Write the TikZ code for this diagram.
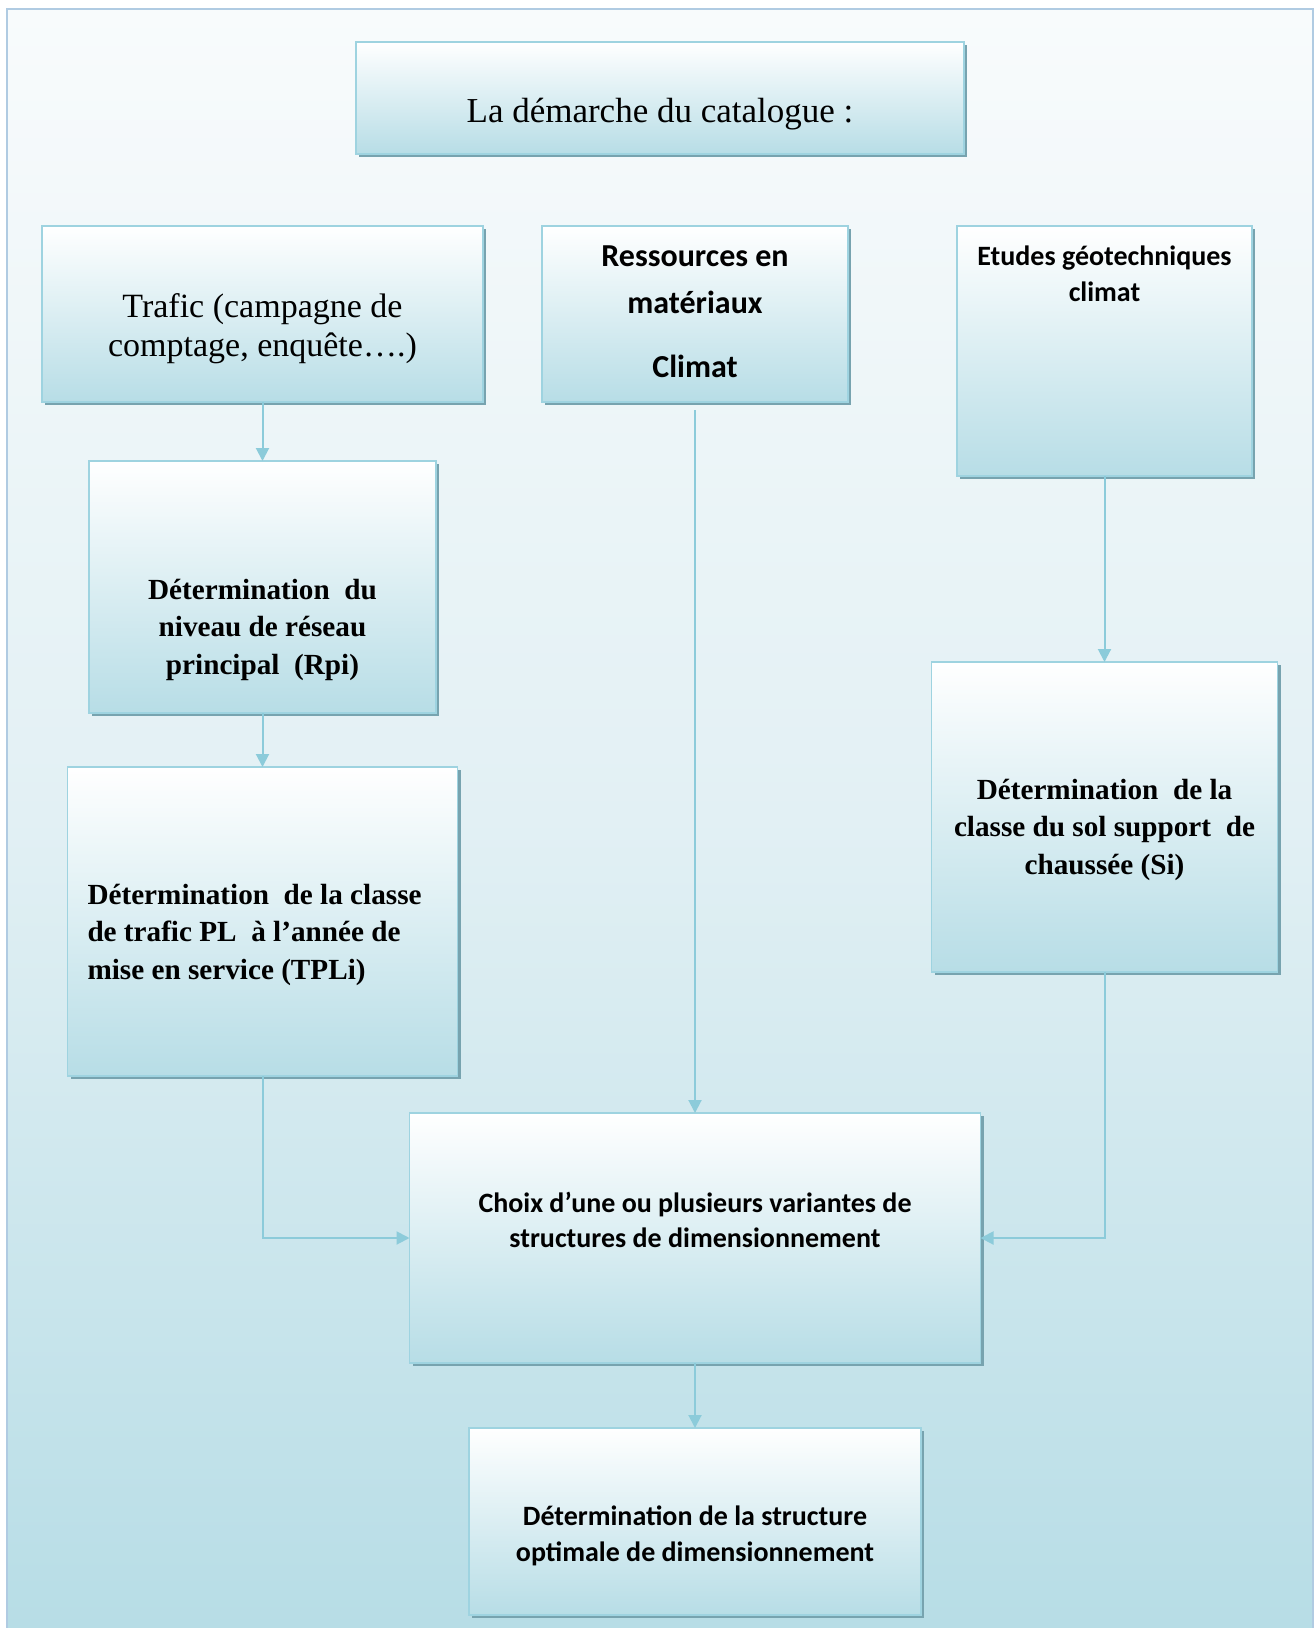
\documentclass[tikz,border=0pt]{standalone}
\usepackage{fontspec}
\setmainfont{Liberation Serif}
\newfontfamily\calibri{Carlito}
\usetikzlibrary{positioning,shadows,arrows.meta}
\definecolor{fondhaut}{HTML}{F8FBFC}
\definecolor{fondmilieu}{HTML}{E2F0F4}
\definecolor{fondbas}{HTML}{B7DDE6}
\definecolor{cadrebleu}{HTML}{B0CBE2}
\definecolor{bordure}{HTML}{9ED3E0}
\definecolor{ombre}{HTML}{77A3AF}
\definecolor{fleche}{HTML}{8CCBDA}
% texte d'une boite : largeur, hauteur, retrait du haut, texte
\newcommand{\contenu}[4]{\parbox[c][#2][t]{#1}{\vspace*{#3}\centering #4}}
\tikzset{boite/.style={
       rectangle,
       draw=bordure,
       line width=0.6pt,
       top color=white,
       bottom color=fondbas,
       inner sep=0pt,
       outer sep=0pt,
       drop shadow={shadow xshift=1.6pt,shadow yshift=-1.6pt,fill=ombre,opacity=1}
     },
     serif/.style={font=\fontsize{17}{19.5}\selectfont},
     gras/.style={font=\fontsize{14.6}{18.7}\selectfont\bfseries},
     sans/.style={font=\calibri\bfseries\fontsize{14}{17.7}\selectfont},
     coude/.style={to path={-| (\tikztotarget)}}
}
\begin{document}
\begin{tikzpicture}[x=1pt,y=-1pt,
    every edge/.style={draw=fleche, line width=1pt},
    >={Triangle[length=6.5pt,width=6.5pt]}]
    \useasboundingbox (0,0) rectangle (658,814);
    \fill[top color=fondhaut, bottom color=fondbas, middle color=fondmilieu] (3.5,4.5) rectangle (656.5,814);
    \draw[cadrebleu, line width=1.2pt] (3.5,814) -- (3.5,4.5) -- (656.5,4.5) -- (656.5,814);

    \node[boite, font=\fontsize{17.5}{21}\selectfont] (titre) at (330,49)
      {\contenu{304pt}{56pt}{28pt}{La démarche du catalogue :}};

    \node[boite, serif] (trafic) at (131.25,157)
      {\contenu{220.5pt}{88pt}{34pt}{Trafic (campagne de\\comptage, enquête\dots.)}};

    \node[boite, font=\calibri\bfseries\fontsize{16}{23.5}\selectfont] (ressources) [right=29.5pt of trafic]
      {\contenu{153pt}{88pt}{10pt}{Ressources en\\matériaux\\[8.5pt]Climat}};

    \node[boite, sans] (etudes) [right=54.5pt of ressources.north east, anchor=north west]
      {\contenu{147.5pt}{125pt}{10pt}{Etudes géotechniques\\climat}};

    \node[boite, gras] (rpi) [below=29.5pt of trafic]
      {\contenu{173.5pt}{126pt}{59pt}{Détermination\ \ du\\niveau de réseau\\principal\ \ (Rpi)}}
      edge [<-] (trafic);

    \node[boite, gras] (tpli) [below=27pt of rpi]
      {\contenu{195pt}{154.5pt}{58.5pt}{\raggedright\leftskip=10pt Détermination\ \ de la classe\\de trafic PL\ \ à l’année de\\mise en service (TPLi)}}
      edge [<-] (rpi);

    \node[boite, gras] (sol) [below=93pt of etudes]
      {\contenu{173pt}{155pt}{58.5pt}{Détermination\ \ de la\\classe du sol support\ \ de\\chaussée (Si)}}
      edge [<-] (etudes);

    \node[boite, sans] (choix) [below=355.5pt of ressources]
      {\contenu{285.5pt}{125pt}{39.5pt}{Choix d’une ou plusieurs variantes de\\structures de dimensionnement}}
      edge [<-, shorten >=4pt] (ressources)
      edge [<-, coude] (tpli)
      edge [<-, coude] (sol);

    \node[boite, sans] (optimale) [below=32.5pt of choix]
      {\contenu{226pt}{93.5pt}{39pt}{Détermination de la structure\\optimale de dimensionnement}}
      edge [<-] (choix);
\end{tikzpicture}
\end{document}
